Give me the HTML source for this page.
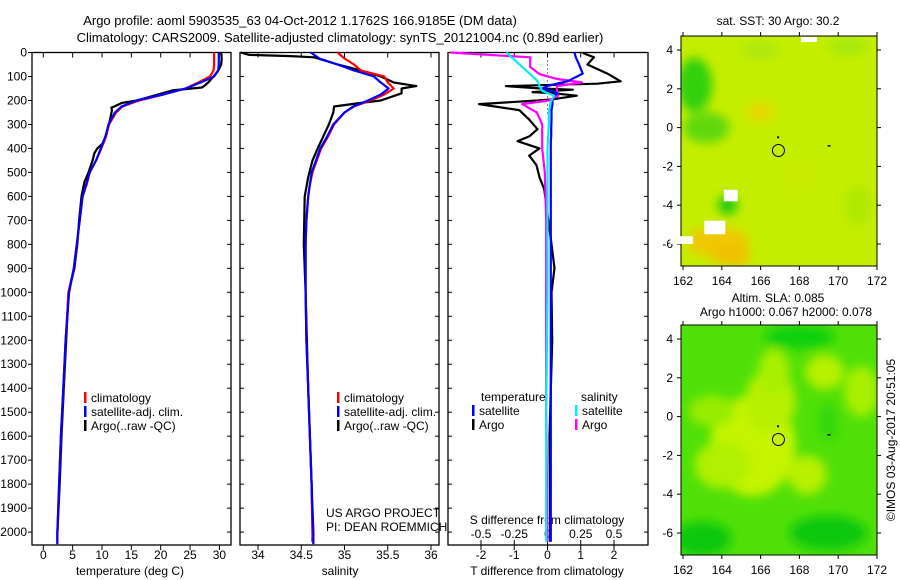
<!DOCTYPE html>
<html><head><meta charset="utf-8"><style>
body{margin:0;background:#fff;}
svg{display:block;font-family:"Liberation Sans",sans-serif;}
</style></head><body>
<svg id="fig" width="900" height="580" viewBox="0 0 900 580">
<defs>
<filter id="blur" x="-50%" y="-50%" width="200%" height="200%"><feGaussianBlur stdDeviation="5"/></filter>
<clipPath id="clipM1"><rect x="681" y="36" width="196" height="230"/></clipPath>
<clipPath id="clipM2"><rect x="681" y="325" width="196" height="230"/></clipPath>
</defs>
<g font-size="13" text-anchor="middle">
<text x="300" y="25">Argo profile: aoml 5903535_63 04-Oct-2012 1.1762S 166.9185E (DM data)</text>
<text x="340" y="42">Climatology: CARS2009. Satellite-adjusted climatology: synTS_20121004.nc (0.89d earlier)</text>
</g>
<g id="p1"></g>
<g id="p2"></g>
<g id="p3"></g>
<g id="maps"></g>
<text x="326" y="517" font-size="12">US ARGO PROJECT</text>
<text x="326" y="531" font-size="12">PI: DEAN ROEMMICH</text>
<text transform="translate(895,440) rotate(-90)" font-size="12" text-anchor="middle">©IMOS 03-Aug-2017 20:51:05</text>
</svg>
<script>
// ---- data ----
const tDepth = [0,25,50,75,100,125,150,175,200,225,250,300,350,400,450,500,550,600,700,800,900,1000,1200,1400,1600,1800,2000,2050];
const tClim = [29.1,29.1,29.1,29.0,28.4,26.4,24.2,20.5,16.3,13.5,12.4,11.2,10.7,9.9,9.0,7.9,7.4,6.7,6.2,5.7,5.2,4.3,3.8,3.4,3.0,2.7,2.4,2.4];
const tSat = [29.9,29.9,29.9,29.8,29.1,26.8,24.3,20.3,15.9,13.3,12.2,11.1,10.6,9.8,9.0,7.9,7.3,6.7,6.2,5.7,5.2,4.4,3.8,3.4,3.0,2.7,2.4,2.4];
const aDepth = [0,25,50,75,100,125,140,146,158,175,200,210,225,230,240,300,350,380,400,420,450,500,540,600,700,800,900,1000,1200,1400,1600,1800,2000,2040];
const tArgo = [30.3,30.4,30.3,29.8,29.0,28.1,27.4,27.0,22.0,19.5,15.9,13.4,12.1,11.6,11.7,11.2,10.6,10.1,9.2,8.7,8.4,7.7,7.0,6.5,6.1,5.8,5.3,4.3,3.9,3.5,3.1,2.8,2.4,2.4];
const sClim = [34.92,35.0,35.11,35.19,35.46,35.5,35.57,35.46,35.3,35.11,35.0,34.88,34.81,34.73,34.68,34.63,34.6,34.58,34.56,34.55,34.55,34.55,34.56,34.58,34.6,34.62,34.63,34.64];
const sSat = [34.61,34.71,34.92,35.11,35.34,35.42,35.51,35.42,35.27,35.1,35.0,34.87,34.8,34.72,34.67,34.62,34.6,34.58,34.56,34.55,34.55,34.55,34.56,34.58,34.6,34.62,34.64,34.64];
const sArgoDepth = [0,10,15,20,50,75,100,125,140,150,170,200,210,225,250,300,400,450,520,600,800,1000,1400,1600,1800,2000,2040];
const sArgo = [33.8,33.9,34.38,34.65,34.92,35.19,35.42,35.57,35.83,35.66,35.66,35.42,35.19,34.88,34.87,34.82,34.69,34.63,34.58,34.54,34.53,34.55,34.58,34.6,34.62,34.63,34.63];
const dDepth = [0,4,20,50,88,120,130,140,150,155,165,170,180,195,200,215,240,280,320,350,370,400,430,470,520,570,640,800,900,1000,1200,1600,2000,2040];
const dTsat = [0.8,0.82,0.85,0.95,1.06,0.6,0.27,0.0,-0.15,0.0,0.2,0.3,0.2,0.15,0.15,0.15,0.12,0.12,0.11,0.11,0.1,0.1,0.1,0.1,0.1,0.1,0.1,0.1,0.1,0.1,0.1,0.1,0.1,0.1];
const dTargo = [1.06,1.1,1.4,1.2,1.8,2.2,1.5,-1.25,-0.2,0.76,-0.45,0.2,0.88,0.15,-0.3,-2.06,-0.85,-0.55,-0.3,-0.55,-0.9,-0.24,-0.55,-0.33,-0.24,-0.1,-0.03,0.12,0.21,0.12,0.14,0.06,0.08,0.08];
const sdDepth = [0,8,20,60,90,110,125,140,160,180,200,215,250,300,400,500,700,1000,1500,2000,2040];
const dSargo = [-0.73,-0.5,-0.13,-0.13,-0.06,0.07,0.26,0.07,0.07,0.08,0.01,-0.19,-0.08,-0.04,-0.04,-0.02,-0.01,-0.01,-0.01,0.0,0.0];
const dSsat = [-0.31,-0.29,-0.27,-0.19,-0.13,-0.09,-0.07,-0.06,-0.04,0.05,0.03,0.02,0.01,0.01,0.0,0.0,0.0,0.0,-0.01,-0.01,-0.01];
const depthTicks = [0,100,200,300,400,500,600,700,800,900,1000,1100,1200,1300,1400,1500,1600,1700,1800,1900,2000];
const tTicks = [0,5,10,15,20,25,30];
const sTicks = [34,34.5,35,35.5,36];
const sTickLabels = ["34","34.5","35","35.5","36"];
const dTTicks = [-2,-1,0,1,2];
const dSTicks = [-0.5,-0.25,0,0.25,0.5];
const dSTickLabels = ["-0.5","-0.25","0","0.25","0.5"];
const lonTicks = [162,164,166,168,170,172];
const latTicks = [4,2,0,-2,-4,-6];

// ---- axes ----
const NS = "http://www.w3.org/2000/svg";
const TOP = 52.5, BOT = 545;
const yD = d => TOP + d * 0.2398;
const xT = t => 43.3 + t * 5.87;
const xS = s => 258 + (s - 34) * 86.5;
const xDT = t => 547.5 + t * 33.25;
const xDS = s => 547.5 + s * 133;
function el(tag, attrs, parent){ const e=document.createElementNS(NS,tag); for(const k in attrs) e.setAttribute(k,attrs[k]); parent.appendChild(e); return e; }
function txt(s, x, y, parent, anchor, size){ const t=el('text',{x:x,y:y,'font-size':size||12,'text-anchor':anchor||'middle'},parent); t.textContent=s; return t; }
function line(xs, ds, xf, color, parent, name, w){
  const pts = xs.map((v,i)=>xf(v).toFixed(1)+','+yD(ds[i]).toFixed(1)).join(' ');
  const p = el('polyline',{points:pts,fill:'none',stroke:color,'stroke-width':w||2.2,'stroke-linejoin':'round'},parent);
  
  
}
function frame(parent, x0, x1, name){
  const r = el('rect',{x:x0,y:TOP,width:x1-x0,height:BOT-TOP,fill:'none',stroke:'#000','stroke-width':1.3},parent);
  
  
}
function legend(parent, x, y, items){
  items.forEach((it,i)=>{
    el('rect',{x:x,y:y+i*14-10,width:2.5,height:11,fill:it[0]},parent);
    const t = txt(it[1], x+7, y+i*14, parent, 'start', 12);
    
    
  });
}

// Panel 1
const p1 = document.getElementById('p1');
frame(p1, 32, 231, 'temperature-frame');
depthTicks.forEach(d=>{
  el('line',{x1:32,x2:28,y1:yD(d),y2:yD(d),stroke:'#000'},p1);
  el('line',{x1:231,x2:227,y1:yD(d),y2:yD(d),stroke:'#000'},p1);
  const t = txt(String(d), 27, yD(d)+4, p1, 'end', 12);
  
  
});
tTicks.forEach(v=>{
  el('line',{x1:xT(v),x2:xT(v),y1:BOT,y2:BOT+5,stroke:'#000'},p1);
  el('line',{x1:xT(v),x2:xT(v),y1:TOP,y2:TOP+5,stroke:'#000'},p1);
  const t = txt(String(v), xT(v), 559, p1);
  
  
});
const xt1 = txt('temperature (deg C)', 130, 575, p1);


line(tArgo, aDepth, xT, '#000', p1, 'argo-temperature-line');
line(tClim, tDepth, xT, '#f00', p1, 'climatology-temperature-line');
line(tSat, tDepth, xT, '#00f', p1, 'satellite-temperature-line');
legend(p1, 84, 402, [['#f00','climatology'],['#00f','satellite-adj. clim.'],['#000','Argo(..raw -QC)']]);

// Panel 2
const p2 = document.getElementById('p2');
frame(p2, 240, 439, 'salinity-frame');
depthTicks.forEach(d=>{
  el('line',{x1:240,x2:244,y1:yD(d),y2:yD(d),stroke:'#000'},p2);
  el('line',{x1:439,x2:435,y1:yD(d),y2:yD(d),stroke:'#000'},p2);
});
sTicks.forEach((v,i)=>{
  el('line',{x1:xS(v),x2:xS(v),y1:BOT,y2:BOT+5,stroke:'#000'},p2);
  el('line',{x1:xS(v),x2:xS(v),y1:TOP,y2:TOP+5,stroke:'#000'},p2);
  const t = txt(sTickLabels[i], xS(v), 559, p2);
  
  
});
const xt2 = txt('salinity', 340, 575, p2);


line(sArgo, sArgoDepth, xS, '#000', p2, 'argo-salinity-line');
line(sClim, tDepth, xS, '#f00', p2, 'climatology-salinity-line');
line(sSat, tDepth, xS, '#00f', p2, 'satellite-salinity-line');
legend(p2, 337, 402, [['#f00','climatology'],['#00f','satellite-adj. clim.'],['#000','Argo(..raw -QC)']]);

// Panel 3
const p3 = document.getElementById('p3');
frame(p3, 448, 648, 'difference-frame');
el('line',{x1:xDT(0),x2:xDT(0),y1:TOP,y2:yD(260),stroke:'#000','stroke-dasharray':'1,3'},p3);
depthTicks.forEach(d=>{
  el('line',{x1:448,x2:452,y1:yD(d),y2:yD(d),stroke:'#000'},p3);
  el('line',{x1:648,x2:644,y1:yD(d),y2:yD(d),stroke:'#000'},p3);
});
dTTicks.forEach(v=>{
  el('line',{x1:xDT(v),x2:xDT(v),y1:BOT,y2:BOT+5,stroke:'#000'},p3);
  const t = txt(String(v), xDT(v), 559, p3);
  
  
});
dSTicks.forEach((v,i)=>{
  el('line',{x1:xDS(v),x2:xDS(v),y1:BOT,y2:BOT-5,stroke:'#000'},p3);
  el('line',{x1:xDS(v),x2:xDS(v),y1:TOP,y2:TOP+5,stroke:'#000'},p3);
  const t = txt(dSTickLabels[i], xDS(v), 538, p3);
  
  
});
const xt3 = txt('T difference from climatology', 547, 575, p3);


const xt4 = txt('S difference from climatology', 547, 524, p3);


line(dTargo, dDepth, xDT, '#000', p3, 'argo-temperature-difference-line');
line(dSargo, sdDepth, xDS, '#f0f', p3, 'argo-salinity-difference-line');
line(dTsat, dDepth, xDT, '#00f', p3, 'satellite-temperature-difference-line');
line(dSsat, sdDepth, xDS, '#0ee', p3, 'satellite-salinity-difference-line');
txt('temperature', 481, 401, p3, 'start');
txt('salinity', 581, 401, p3, 'start');
legend(p3, 472, 415, [['#00f','satellite'],['#000','Argo']]);
legend(p3, 575, 415, [['#0ee','satellite'],['#f0f','Argo']]);

// Maps
const maps = document.getElementById('maps');
const m1Blobs = [[162.6,2.2,0.9,1.4,'#30d010'],[163.2,0,1.2,0.8,'#60d810'],[164.3,-4,0.5,0.5,'#20c810'],[163.8,-5.9,1.6,0.8,'#f0c800'],[164.5,-6.6,1.0,0.5,'#f0c000'],[166,0.8,0.7,0.5,'#e8d800'],[170.5,4.2,1,0.5,'#a8e810'],[171,-4,0.7,1.0,'#b0e800'],[166,4,1,0.5,'#b0e810'],[168,-2.5,1,1,'#c8ec00']];
const m2Blobs = [[165.6,-1.5,2.2,2.6,'#c4f400'],[166.5,0.8,1.3,1.6,'#b8f000'],[166.7,2.3,0.8,1.2,'#a8f000'],[169.3,2.3,1.0,0.9,'#b8f000'],[168.4,-3,1.0,1.0,'#b8f000'],[171.2,1.3,0.9,1.3,'#a8f000'],[164,-2.5,1.4,1.2,'#b0f000'],[163.5,0.3,1.2,0.8,'#98ec00'],[163,-6.3,1.5,0.9,'#10c810'],[169.5,-6,2,0.9,'#10c810'],[168,4.1,1.8,0.6,'#10d010'],[169.5,-0.3,0.5,1.0,'#30d810']];
function drawMap(y0, base, blobs, clipId, name){
  const g = el('g',{},maps);
  
  
  const lx = lon => 683 + (lon-162)*19.4;
  const ly = lat => y0 + 14 + (4-lat)*19.4;
  const cg = el('g',{'clip-path':'url(#'+clipId+')'},g);
  el('rect',{x:681,y:y0,width:196,height:230,fill:base},cg);
  const bg = el('g',{filter:'url(#blur)'},cg);
  blobs.forEach(b=>el('ellipse',{cx:lx(b[0]),cy:ly(b[1]),rx:b[2]*19.4,ry:b[3]*19.4,fill:b[4]},bg));
  el('rect',{x:681,y:y0,width:196,height:230,fill:'none',stroke:'#000'},g);
  lonTicks.forEach(v=>{
    el('line',{x1:lx(v),x2:lx(v),y1:y0+230,y2:y0+234,stroke:'#000'},g);
    el('line',{x1:lx(v),x2:lx(v),y1:y0,y2:y0-4,stroke:'#000'},g);
    const t = txt(String(v), lx(v), y0+249, g);
    
    
  });
  latTicks.forEach(v=>{
    el('line',{x1:681,x2:677,y1:ly(v),y2:ly(v),stroke:'#000'},g);
    el('line',{x1:877,x2:881,y1:ly(v),y2:ly(v),stroke:'#000'},g);
    const t = txt(String(v), 673, ly(v)+4, g, 'end');
    
    
  });
  const c = el('circle',{cx:lx(166.92),cy:ly(-1.18),r:6,fill:'none',stroke:'#000','stroke-width':1},g);
  
  
  el('rect',{x:lx(166.9)-1,y:ly(-0.5)-1,width:2,height:2,fill:'#000'},g);
  el('rect',{x:lx(169.5)-1,y:ly(-0.9),width:3,height:1.5,fill:'#000'},g);
}
drawMap(36, '#c4ee00', m1Blobs, 'clipM1', 'sst-map');
drawMap(325, '#50e008', m2Blobs, 'clipM2', 'sla-map');
// white gaps in SST map
[[164.5,-3.8,0.8,1.2],[163.7,-5.5,1.2,1.4],[162,-6,1.3,0.8]].forEach(r=>{
  const lx = lon => 683 + (lon-162)*19.4, ly = lat => 50 + (4-lat)*19.4;
  el('rect',{x:lx(r[0]-r[2]/2),y:ly(r[1]+r[3]/2),width:r[2]*19.4*0.9,height:r[3]*19.4*0.5,fill:'#fff'},maps);
});
el('rect',{x:801,y:37,width:16,height:5,fill:'#fff'},maps);
const mt1 = txt('sat. SST: 30 Argo: 30.2', 778, 25, maps);


const mt2 = txt('Altim. SLA: 0.085', 778, 302, maps);


const mt3 = txt('Argo h1000: 0.067 h2000: 0.078', 786, 316, maps);


</script>
</body></html>
